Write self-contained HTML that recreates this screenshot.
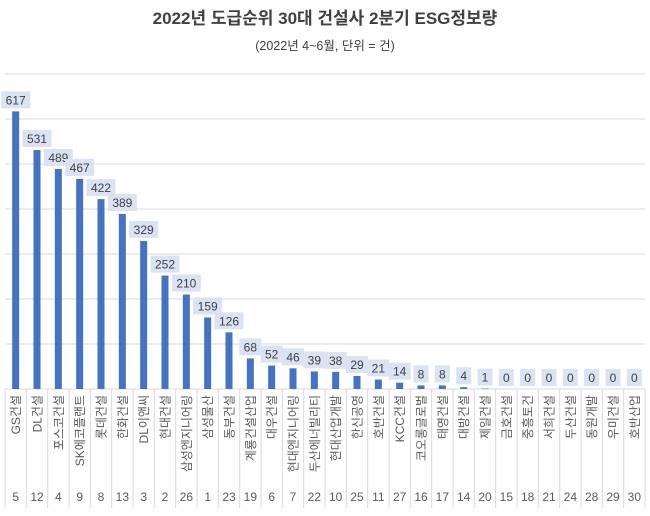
<!DOCTYPE html>
<html><head><meta charset="utf-8"><style>
body{margin:0;background:#fff;}
svg text{font-family:"Liberation Sans","Noto Sans CJK KR",sans-serif;}
</style></head><body>
<svg width="650" height="511" xmlns="http://www.w3.org/2000/svg">
<rect width="650" height="511" fill="#fff"/>
<text x="325" y="24" text-anchor="middle" font-size="17" font-weight="bold" fill="#404040">2022년 도급순위 30대 건설사 2분기 ESG정보량</text>
<text x="325" y="50" text-anchor="middle" font-size="12.5" fill="#404040">(2022년 4~6월, 단위 = 건)</text>
<g id="g"></g>
</svg>
<script>
const names=["GS건설","DL건설","포스코건설","SK에코플랜트","롯데건설","한화건설","DL이앤씨","현대건설","삼성엔지니어링","삼성물산","동부건설","계룡건설산업","대우건설","현대엔지니어링","두산에너빌리티","현대산업개발","한신공영","호반건설","KCC건설","코오롱글로벌","태영건설","대방건설","제일건설","금호건설","중흥토건","서희건설","두산건설","동원개발","우미건설","호반산업"];
const vals=[617,531,489,467,422,389,329,252,210,159,126,68,52,46,39,38,29,21,14,8,8,4,1,0,0,0,0,0,0,0];
const ranks=[5,12,4,9,8,13,3,2,26,1,23,19,6,7,22,10,25,11,27,16,17,14,20,15,18,21,24,28,29,30];
const ns="http://www.w3.org/2000/svg";let s="";
for(let k=1;k<=7;k++){const y=389-k*45;s+=`<line x1="5" x2="645" y1="${y}" y2="${y}" stroke="#d9d9d9"/>`;}
s+=`<line x1="5" x2="645" y1="389" y2="389" stroke="#d9d9d9"/>`;
const w=640/30;
for(let i=0;i<=30;i++){const x=5+i*w;s+=`<line x1="${x}" x2="${x}" y1="389" y2="508" stroke="#d9d9d9"/>`;}
for(let i=0;i<30;i++){const cx=5+w*(i+0.5);const h=vals[i]*0.45;const top=389-h;
s+=`<rect x="${cx-3.5}" y="${top}" width="7" height="${h}" fill="#4472c4"/>`;
const tw=String(vals[i]).length*7+8;const by=top-20;
s+=`<rect x="${cx-tw/2}" y="${by}" width="${tw}" height="17" fill="#dae3f3"/>`;
s+=`<text x="${cx}" y="${by+13}" text-anchor="middle" font-size="12" fill="#404040">${vals[i]}</text>`;
s+=`<text transform="translate(${cx+4.5},395) rotate(-90)" text-anchor="end" font-size="12" fill="#595959">${names[i]}</text>`;
s+=`<text x="${cx}" y="501" text-anchor="middle" font-size="12" fill="#595959">${ranks[i]}</text>`;}
document.getElementById("g").innerHTML=s;
</script>
</body></html>
